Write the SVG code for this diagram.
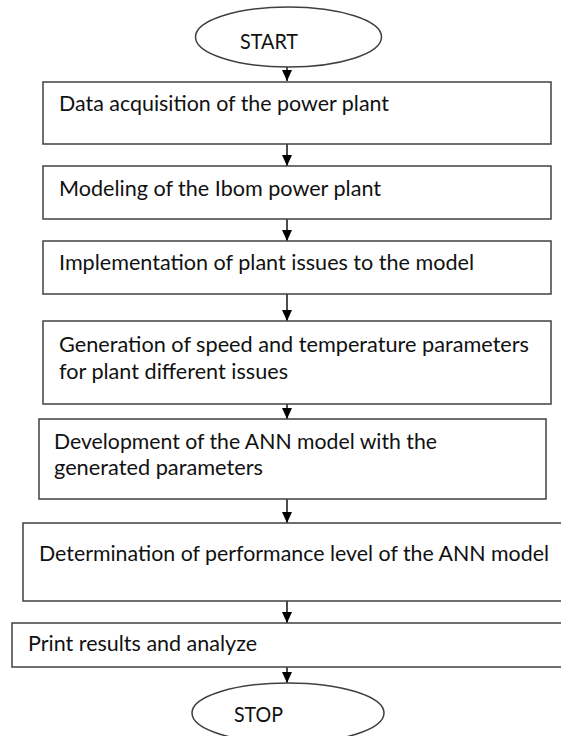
<svg xmlns="http://www.w3.org/2000/svg" width="561" height="736" viewBox="0 0 561 736">
  <style>
    .box { fill: #ffffff; stroke: #404040; stroke-width: 1.5; }
    .term { fill: #ffffff; stroke: #404040; stroke-width: 1.5; }
    .lbl { font-family: Lato, "Open Sans", "Liberation Sans", sans-serif; font-size: 21px; fill: #111111; }
    .conn line { stroke: #000000; stroke-width: 1.4; fill: none; }
  </style>
  <defs>
    <!-- filled triangular head, drawn along +x so orient="auto" turns it down the line -->
    <marker id="head" markerUnits="userSpaceOnUse" markerWidth="11" markerHeight="10" refX="11" refY="5" orient="auto" viewBox="0 0 11 10">
      <path d="M0,0 L11,5 L0,10 Z" fill="#000000"/>
    </marker>
  </defs>
  <rect width="561" height="736" fill="#ffffff"/>

  <!-- connectors -->
  <g id="connectors" class="conn">
    <line x1="287" y1="67" x2="287" y2="81" marker-end="url(#head)"/>
    <line x1="287" y1="144" x2="287" y2="166" marker-end="url(#head)"/>
    <line x1="287" y1="219" x2="287" y2="241" marker-end="url(#head)"/>
    <line x1="287" y1="294" x2="287" y2="321" marker-end="url(#head)"/>
    <line x1="287" y1="404" x2="287" y2="419" marker-end="url(#head)"/>
    <line x1="287" y1="499" x2="287" y2="523" marker-end="url(#head)"/>
    <line x1="287" y1="601" x2="287" y2="623" marker-end="url(#head)"/>
    <line x1="287" y1="667" x2="287" y2="683" marker-end="url(#head)"/>
  </g>

  <g id="start">
    <ellipse class="term" cx="288.5" cy="37" rx="93" ry="30"/>
    <text class="lbl" x="240" y="49" textLength="58" lengthAdjust="spacingAndGlyphs">START</text>
  </g>

  <g id="data-acquisition">
    <rect class="box" x="43" y="82" width="508" height="62"/>
    <text class="lbl" x="59" y="111" textLength="330" lengthAdjust="spacingAndGlyphs">Data acquisition of the power plant</text>
  </g>

  <g id="modeling">
    <rect class="box" x="43" y="166" width="508" height="53"/>
    <text class="lbl" x="59" y="196" textLength="322" lengthAdjust="spacingAndGlyphs">Modeling of the Ibom power plant</text>
  </g>

  <g id="implementation">
    <rect class="box" x="43" y="241" width="508" height="53"/>
    <text class="lbl" x="59" y="270" textLength="415" lengthAdjust="spacingAndGlyphs">Implementation of plant issues to the model</text>
  </g>

  <g id="generation">
    <rect class="box" x="43" y="321" width="508" height="83"/>
    <text class="lbl" x="59" y="352" textLength="470" lengthAdjust="spacingAndGlyphs">Generation of speed and temperature parameters</text>
    <text class="lbl" x="59" y="379" textLength="229" lengthAdjust="spacingAndGlyphs">for plant different issues</text>
  </g>

  <g id="development">
    <rect class="box" x="39" y="419" width="507" height="80"/>
    <text class="lbl" x="54" y="449" textLength="383" lengthAdjust="spacingAndGlyphs">Development of the ANN model with the</text>
    <text class="lbl" x="54" y="475" textLength="209" lengthAdjust="spacingAndGlyphs">generated parameters</text>
  </g>

  <g id="determination">
    <rect class="box" x="23" y="523" width="545" height="78"/>
    <text class="lbl" x="39" y="561" textLength="510" lengthAdjust="spacingAndGlyphs">Determination of performance level of the ANN model</text>
  </g>

  <g id="print-results">
    <rect class="box" x="12" y="623" width="556" height="44"/>
    <text class="lbl" x="28" y="651" textLength="229" lengthAdjust="spacingAndGlyphs">Print results and analyze</text>
  </g>

  <g id="stop">
    <ellipse class="term" cx="288" cy="713" rx="96" ry="30"/>
    <text class="lbl" x="234" y="722" textLength="49" lengthAdjust="spacingAndGlyphs">STOP</text>
  </g>
</svg>
